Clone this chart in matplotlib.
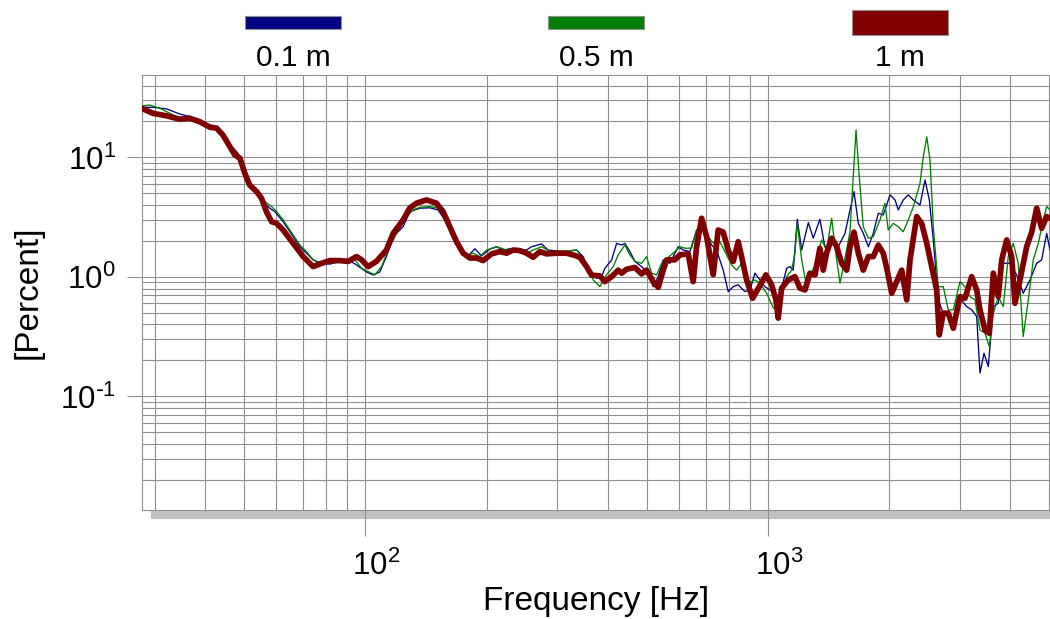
import matplotlib
matplotlib.use('Agg')
import matplotlib.pyplot as plt
from matplotlib.patches import Rectangle
from matplotlib.ticker import LogLocator, NullFormatter, FuncFormatter
from matplotlib.transforms import ScaledTranslation
import math

plt.rcParams['font.family'] = ['Liberation Sans', 'DejaVu Sans']
plt.rcParams['mathtext.default'] = 'regular'
plt.rcParams['axes.unicode_minus'] = False

# ---- data ----
labels = ['0.1 m', '0.5 m', '1 m']
colors = ['#000080', '#008000', '#800000']

blue_freq = [27.9, 29.7, 32.1, 34.6, 36.6, 38.8, 41.1, 42.7, 44.3, 46.1,
             47.9, 48.8, 50.2, 51.6, 53.7, 55.7, 57.9, 59.6, 62.5, 66.2,
             68.8, 71.4, 74.2, 77.9, 81.6, 86.5, 90.7, 95.1, 100.7, 104.5,
             108.6, 112.8, 117.3, 124.1, 129, 136.6, 144.6, 151.6, 157.5, 165.3,
             173.4, 180, 187.1, 194.4, 203.9, 211.9, 220, 228.6, 242.1, 251.5,
             258.8, 274, 284.5, 298.5, 313, 334.8, 347.6, 361.3, 375.4, 386.1,
             393.5, 409.1, 420.9, 433.1, 441.3, 454.1, 467.3, 485.5, 504.2, 518.8,
             534, 549.4, 570.8, 598.6, 616, 640, 665, 690.7, 724.7, 745.6,
             774.2, 796.8, 819.9, 843.6, 876.6, 902.2, 928.4, 955.2, 982.9, 1011.6,
             1041, 1060.6, 1083, 1113, 1134, 1156, 1182.6, 1213, 1260, 1296,
             1346, 1385, 1440, 1495, 1554, 1599, 1636, 1677, 1725, 1776,
             1827, 1880, 1934, 2010, 2069, 2107, 2168, 2232, 2297, 2386,
             2456, 2517, 2575, 2649, 2726, 2805, 2887, 2999, 3116, 3207,
             3300, 3363, 3441, 3527, 3629, 3734, 3843, 3992, 4148, 4307,
             4476, 4651, 4786, 4925, 5019]
blue_pct = [26.3, 26.3, 25.5, 23.1, 22.0, 20.6, 18.7, 18.1, 15.9, 12.7,
            11.2, 10.2, 7.61, 5.88, 5.18, 4.27, 3.76, 3.52, 2.90, 2.17,
            1.79, 1.58, 1.39, 1.30, 1.28, 1.35, 1.39, 1.26, 1.10, 1.04,
            1.10, 1.48, 2.17, 2.63, 3.52, 3.76, 3.79, 3.64, 3.0, 2.17,
            1.63, 1.50, 1.72, 1.50, 1.71, 1.79, 1.68, 1.72, 1.68, 1.68,
            1.79, 1.89, 1.68, 1.65, 1.63, 1.68, 1.48, 1.08, 0.975, 1.005,
            1.18, 1.39, 1.91, 1.85, 1.91, 1.63, 1.35, 1.22, 1.075, 0.829,
            1.005, 1.39, 1.30, 1.79, 1.68, 1.63, 2.47, 2.63, 1.85, 1.68,
            1.14, 0.753, 0.829, 0.86, 0.753, 0.778, 1.075, 0.944, 0.829, 0.778,
            0.73, 0.68, 0.825, 1.18, 1.22, 1.14, 3.04, 1.68, 2.85, 2.11,
            3.04, 1.79, 1.91, 1.79, 2.32, 3.64, 5.18, 2.81, 2.32, 1.79,
            2.32, 3.41, 3.30, 4.86, 4.41, 3.64, 4.41, 4.86, 4.41, 4.0,
            6.48, 4.41, 2.04, 0.642, 0.497, 0.515, 0.41, 0.665, 0.565, 0.53,
            0.466, 0.157, 0.23, 0.178, 0.565, 0.602, 1.30, 1.30, 1.04, 0.73,
            0.944, 1.30, 1.39, 2.32, 1.68]

green_freq = [27.9, 29.1, 30.9, 32.7, 34.6, 36.6, 38.8, 41.1, 42.7, 44.3,
              46.1, 47.9, 48.8, 50.2, 51.6, 53.7, 56.3, 58.5, 60.2, 62.5,
              66.2, 68.8, 71.4, 74.2, 77.1, 81.6, 86.5, 90.7, 94.2, 97.9,
              102.6, 105.6, 109.7, 114, 119.6, 126.6, 131.5, 136.6, 144.6, 151.6,
              157.5, 165.3, 173.4, 178.4, 185.3, 192.5, 200.1, 211.9, 224.3, 237.6,
              251.5, 261.2, 274, 287.3, 304.2, 334.8, 354.4, 368.2, 382.4, 397.3,
              412.8, 424.7, 441.3, 454.1, 467.3, 485.5, 499.6, 514.1, 529.1, 544.5,
              565.3, 587.4, 604.5, 622, 646.3, 665, 684.4, 710.7, 738.5, 759.8,
              789.4, 812.5, 836, 860.2, 893.4, 928.4, 955.2, 992.7, 1031, 1052.6,
              1077, 1113, 1145, 1167, 1182.6, 1213, 1248, 1284, 1321, 1359,
              1398, 1440, 1467, 1510, 1554, 1599, 1629, 1655, 1686, 1725,
              1776, 1827, 1898, 1953, 1990, 2048, 2107, 2168, 2232, 2297,
              2386, 2432, 2480, 2527, 2575, 2649, 2726, 2805, 2887, 2999,
              3086, 3176, 3268, 3363, 3461, 3547, 3629, 3734, 3843, 3953,
              4068, 4186, 4307, 4433, 4561, 4694, 4830, 4925, 5019]
green_pct = [27.0, 27.5, 25.8, 23.4, 21.3, 22.0, 20.3, 18.4, 17.9, 15.9,
             12.4, 10.96, 10.2, 7.61, 5.88, 5.18, 4.27, 3.88, 3.52, 3.0,
             2.24, 1.85, 1.63, 1.39, 1.28, 1.30, 1.37, 1.41, 1.39, 1.18,
             1.09, 1.04, 1.22, 1.68, 2.32, 3.20, 3.64, 3.83, 3.88, 3.78,
             3.12, 2.20, 1.62, 1.50, 1.58, 1.48, 1.68, 1.79, 1.68, 1.65,
             1.58, 1.68, 1.79, 1.63, 1.63, 1.68, 1.30, 0.944, 0.829, 1.04,
             1.22, 1.53, 1.85, 1.53, 1.35, 1.30, 1.48, 1.075, 1.04, 1.30,
             1.46, 1.63, 1.79, 1.74, 1.74, 2.47, 2.63, 2.17, 1.85, 1.97,
             1.53, 1.26, 1.14, 1.30, 0.886, 0.944, 0.886, 0.73, 0.55, 0.54,
             0.642, 1.005, 1.14, 1.58, 2.81, 1.39, 0.829, 1.075, 1.39, 2.04,
             1.68, 3.10, 1.79, 0.886, 1.43, 2.39, 6.91, 16.99, 6.91, 2.63,
             2.11, 2.17, 3.0, 4.14, 2.47, 2.81, 2.63, 2.39, 3.0, 3.88,
             6.06, 10.16, 14.9, 9.53, 2.63, 0.829, 0.829, 0.53, 0.53, 0.914,
             0.829, 0.684, 0.642, 0.36, 0.338, 0.261, 0.497, 0.684, 0.565, 1.48,
             1.91, 1.30, 0.317, 0.642, 1.39, 1.91, 3.0, 3.88, 3.64]

red_freq = [27.8, 29.7, 32.1, 34.6, 36.6, 38.8, 41.1, 42.7, 44.3, 46.1,
            47.4, 48.8, 50.2, 51.6, 53.7, 55.2, 56.8, 58.5, 60.2, 62.5,
            66.2, 70.1, 74.2, 77.9, 81.6, 86.5, 90.7, 95.1, 97.9, 101.6,
            106.6, 112.8, 117.3, 124.1, 129, 134, 141.9, 150.2, 156, 162.2,
            168.5, 175, 181.8, 188.9, 196.2, 205.9, 215.9, 224.3, 233, 242.1,
            251.5, 261.2, 271.3, 281.9, 298.5, 316, 328.3, 341.1, 354.4, 364.8,
            382.4, 393.5, 409.1, 424.7, 433.1, 445.6, 467.3, 485.5, 499.6, 518.8,
            534, 549.4, 560.2, 587.4, 604.5, 633.8, 652.2, 665, 684.4, 704.2,
            731.3, 752.4, 774.2, 796.8, 819.9, 843.6, 860.2, 885.1, 916.3, 951.4,
            988.9, 1021.5, 1046.9, 1060.6, 1081.5, 1123.2, 1167, 1201, 1236, 1272,
            1309, 1346, 1372, 1398, 1440, 1482, 1525, 1569, 1599, 1636,
            1677, 1725, 1776, 1827, 1880, 1934, 1973, 2030, 2088, 2149,
            2212, 2254, 2342, 2409, 2480, 2552, 2625, 2664, 2726, 2805,
            2887, 2999, 3086, 3207, 3300, 3363, 3461, 3547, 3629, 3734,
            3808, 3918, 4031, 4108, 4227, 4392, 4520, 4651, 4786, 4925,
            5019]
red_pct = [25.8, 23.4, 22.3, 20.9, 21.3, 19.9, 17.9, 17.6, 15.4, 12.3,
           10.5, 9.85, 7.37, 5.88, 5.18, 4.56, 3.52, 2.90, 2.81, 2.47,
           1.91, 1.48, 1.22, 1.30, 1.37, 1.37, 1.35, 1.48, 1.39, 1.22,
           1.35, 1.68, 2.32, 3.0, 3.78, 4.14, 4.41, 4.14, 3.52, 2.63,
           1.97, 1.58, 1.44, 1.44, 1.37, 1.56, 1.63, 1.58, 1.68, 1.66,
           1.58, 1.46, 1.63, 1.56, 1.58, 1.58, 1.53, 1.46, 1.22, 1.035,
           1.02, 0.914, 1.005, 1.14, 1.075, 1.16, 1.20, 1.06, 1.14, 0.914,
           0.819, 1.14, 1.39, 1.39, 1.53, 1.56, 0.914, 1.79, 3.10, 2.17,
           1.045, 2.47, 2.37, 1.68, 1.35, 1.97, 1.48, 0.944, 0.663, 0.829,
           1.04, 0.86, 0.642, 0.452, 0.805, 0.944, 1.005, 0.805, 0.778, 1.075,
           1.04, 1.74, 1.14, 1.58, 2.11, 1.79, 1.30, 1.14, 1.79, 2.37,
           1.58, 1.14, 1.48, 1.48, 1.85, 1.58, 1.18, 0.730, 0.914, 1.14,
           0.642, 1.39, 3.20, 2.81, 1.91, 1.22, 0.778, 0.327, 0.497, 0.497,
           0.372, 0.684, 0.663, 1.005, 0.778, 0.53, 0.36, 0.338, 1.075, 0.684,
           1.39, 2.04, 1.48, 0.602, 0.944, 1.79, 2.37, 3.76, 2.55, 3.20,
           3.10]

x_range = (27.8, 5019)
y_range = (0.0112, 49)


def pow10_label(v, pos):
    e = int(round(math.log10(v)))
    if e < 0:
        return r'$10^{\text{-}%d}$' % (-e)
    return r'$10^{%d}$' % e


# ---- figure ----
W, H = 1050, 619
fig = plt.figure(figsize=(W / 100, H / 100), dpi=100)
ax = fig.add_axes([141.5 / W, (H - 510) / H, (W - 141.5) / W, 435 / H])

grid_col = '#8f8f8f'
ax.set_xscale('log')
ax.set_yscale('log')
ax.set_xlim(*x_range)
ax.set_ylim(*y_range)

ax.plot(blue_freq, blue_pct, color=colors[0], lw=0.95, zorder=3)
ax.plot(green_freq, green_pct, color=colors[1], lw=0.95, zorder=4)
ax.plot(red_freq, red_pct, color=colors[2], lw=4.1, zorder=5,
        solid_joinstyle='round', solid_capstyle='round')

ax.xaxis.set_major_locator(LogLocator(base=10, numticks=10))
ax.xaxis.set_minor_locator(LogLocator(base=10, subs=range(2, 10), numticks=20))
ax.yaxis.set_major_locator(LogLocator(base=10, numticks=10))
ax.yaxis.set_minor_locator(LogLocator(base=10, subs=range(2, 10), numticks=20))
ax.xaxis.set_major_formatter(FuncFormatter(pow10_label))
ax.yaxis.set_major_formatter(FuncFormatter(pow10_label))
ax.xaxis.set_minor_formatter(NullFormatter())
ax.yaxis.set_minor_formatter(NullFormatter())

ax.grid(True, which='both', color=grid_col, lw=0.8, zorder=1)
ax.set_axisbelow(True)

ax.tick_params(axis='x', which='major', direction='out', length=19, width=0.8,
               color=grid_col, pad=10, labelsize=22.5)
ax.tick_params(axis='y', which='major', direction='out', length=10.5, width=0.8,
               color=grid_col, pad=8, labelsize=22.5)
ax.tick_params(which='minor', length=0)

# x tick labels sit a little right of their ticks in the reference
shift = ScaledTranslation(11 / 100, 0, fig.dpi_scale_trans)
for tick in ax.xaxis.get_major_ticks():
    tick.label1.set_transform(tick.label1.get_transform() + shift)

for side in ['left', 'bottom', 'top']:
    ax.spines[side].set_color(grid_col)
    ax.spines[side].set_linewidth(0.8)
ax.spines['right'].set_visible(False)

# grey shadow under the plot frame
ax.add_patch(Rectangle((9.5 / 908.5, -9 / 435), 1.0, 9 / 435, transform=ax.transAxes,
                       facecolor='#c0c0c0', edgecolor='none', clip_on=False, zorder=0))

ax.set_xlabel('Frequency [Hz]', fontsize=24, labelpad=3)
ax.set_ylabel('[Percent]', fontsize=24, labelpad=12)

# legend on top: coloured bars with labels below
bar_centers = [293, 596, 899.5]
bar_heights = [13.6, 13.6, 25.6]
for cx, bh, col, lab in zip(bar_centers, bar_heights, colors, labels):
    fig.patches.append(Rectangle(((cx - 48) / W, (H - 22.5 - bh / 2) / H), 96 / W, bh / H,
                                 transform=fig.transFigure, facecolor=col,
                                 edgecolor='#909090', lw=0.8))
    fig.text(cx / W, (H - 58) / H, lab, ha='center', va='center', fontsize=21.5)

fig.savefig('out.png', dpi=100)
